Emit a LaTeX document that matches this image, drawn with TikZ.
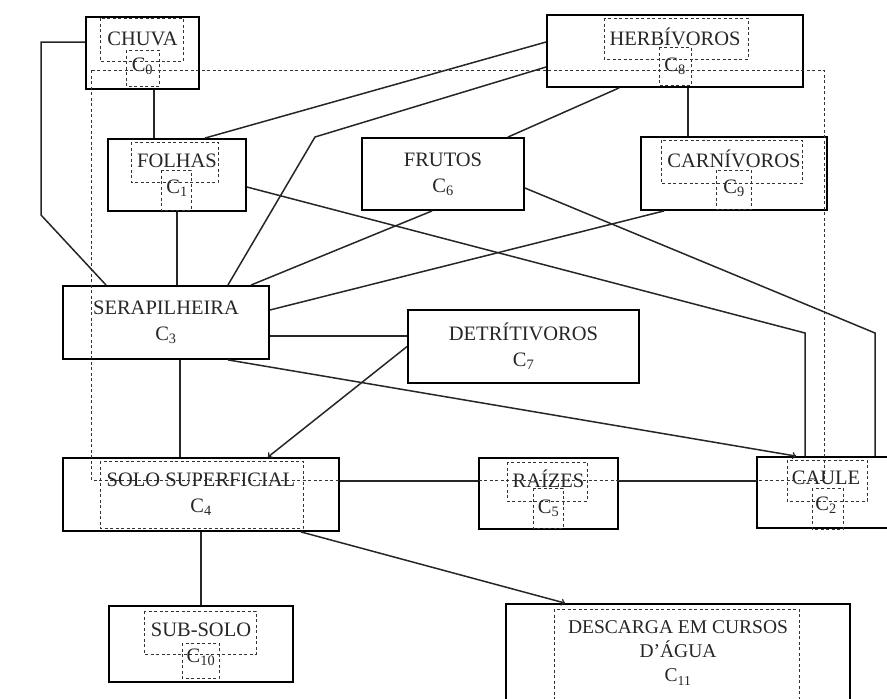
\documentclass[tikz,border=0pt]{standalone}
\usepackage{fontspec}
\setmainfont{Liberation Serif}
\usetikzlibrary{arrows}

\newcommand{\boxfont}{\fontsize{20.5}{26}\selectfont}
\newcommand{\bigboxfont}{\fontsize{19.5}{24}\selectfont}

\tikzset{
	box/.style={draw, line width=1.8pt, align=center, font=\boxfont, inner sep=0pt, text=black!85},
	frame/.style={line width=0.9pt, black!80, dash pattern=on 3pt off 2.5pt},
	link/.style={line width=1.5pt, black!85}
}

\begin{document}
\begin{tikzpicture}[x=1pt,y=-1pt]

	\useasboundingbox (0,0) rectangle (887,699);
	\clip (0,0) rectangle (887,699);

	\node[box, minimum width=113pt, minimum height=72pt] (chuva) at (142.5,53) {CHUVA\\C\textsubscript{0}};
	\node[box, minimum width=138pt, minimum height=72pt] (folhas) at (177,175) {FOLHAS\\C\textsubscript{1}};
	\node[box, minimum width=162pt, minimum height=72pt] (frutos) at (443,174) {FRUTOS\\C\textsubscript{6}};
	\node[box, minimum width=256pt, minimum height=72pt] (herb) at (675,51) {HERBÍVOROS\\C\textsubscript{8}};
	\node[box, minimum width=186pt, minimum height=73pt] (carn) at (734,173.5) {CARNÍVOROS\\C\textsubscript{9}};
	\node[box, minimum width=206pt, minimum height=73pt] (serap) at (166,322.5) {SERAPILHEIRA\\C\textsubscript{3}};
	\node[box, minimum width=231pt, minimum height=73pt] (detr) at (523.5,346.5) {DETRÍTIVOROS\\C\textsubscript{7}};
	\node[box, minimum width=276pt, minimum height=73pt] (solo) at (201,494.5) {SOLO SUPERFICIAL\\C\textsubscript{4}};
	\node[box, minimum width=139pt, minimum height=71pt] (raizes) at (548.5,493.5) {RAÍZES\\C\textsubscript{5}};
	\node[box, minimum width=138pt, minimum height=71pt] (caule) at (826,492.5) {CAULE\\C\textsubscript{2}};
	\node[box, minimum width=184pt, minimum height=76pt] (subsolo) at (201,644) {SUB-SOLO\\C\textsubscript{10}};
	\node[box, font=\bigboxfont, minimum width=344pt, minimum height=98pt] (descarga) at (678,653) {DESCARGA EM CURSOS\\D'ÁGUA\\C\textsubscript{11}};

	% dotted frames
	\draw[frame] (91,70) rectangle (824,480);
	\draw[frame] (100,18) rectangle (183,61);
	\draw[frame] (126,50) rectangle (159,86);
	\draw[frame] (131,142) rectangle (218,182);
	\draw[frame] (161,170) rectangle (191,210);
	\draw[frame] (604,18) rectangle (748,59);
	\draw[frame] (659,47) rectangle (691,85);
	\draw[frame] (661,140) rectangle (802,183);
	\draw[frame] (716,170) rectangle (751,209);
	\draw[frame] (100,461) rectangle (303,528);
	\draw[frame] (507,462) rectangle (587,501);
	\draw[frame] (533,488) rectangle (563,528);
	\draw[frame] (787,460) rectangle (867,501);
	\draw[frame] (812,488) rectangle (843,529);
	\draw[frame] (144,611) rectangle (256,654);
	\draw[frame] (182,643) rectangle (219,678);
	\draw[frame] (554,609) rectangle (799,705);

	\coordinate (bendA) at (41,215);
	\coordinate (bendB) at (315,137);
	\coordinate (bendC) at (805,333);
	\coordinate (bendD) at (875,333);

	\draw[link] ([xshift=11.5pt]chuva.south) -- ([xshift=11.5pt]chuva.south |- folhas.north);
	\draw[link] ([yshift=11pt]chuva.west) -| (bendA) -- ([xshift=44pt]serap.north west);
	\draw[link] ([yshift=9pt]herb.west) -- ([xshift=-42pt]folhas.north east);
	\draw[link] ([yshift=-16pt]herb.west) -- (bendB) -- ([xshift=-42pt]serap.north east);
	\draw[link] ([xshift=73pt]herb.south west) -- ([xshift=-17pt]frutos.north east);
	\draw[link] ([xshift=13pt]herb.south) -- ([xshift=13pt]herb.south |- carn.north);
	\draw[link] ([xshift=71pt]frutos.south west) -- ([xshift=-19pt]serap.north east);
	\draw[link] ([yshift=12.5pt]serap.east) -- ([xshift=24pt]carn.south west);
	\draw[link] ([yshift=-13.5pt]serap.east) -- ([yshift=-13.5pt]serap.east -| detr.west);
	\draw[link, ->] ([xshift=-42pt]serap.south east) -- ([xshift=40pt]caule.north west);
	\draw[link] ([yshift=-12pt]folhas.east) -- (bendC) -- (bendC |- caule.north);
	\draw[link] ([yshift=-14pt]frutos.east) -- (bendD) -- (bendD |- caule.north);
	\draw[link, ->] (detr.west) -- ([xshift=-72pt]solo.north east);
	\draw[link] (folhas.south) -- (folhas.south |- serap.north);
	\draw[link] ([xshift=14pt]serap.south) -- ([xshift=14pt]serap.south |- solo.north);
	\draw[link] ([yshift=13.5pt]solo.east) -- ([yshift=13.5pt]solo.east -| raizes.west);
	\draw[link] ([yshift=13.5pt]solo.east -| raizes.east) -- ([yshift=13.5pt]solo.east -| caule.west);
	\draw[link] (solo.south) -- (solo.south |- subsolo.north);
	\draw[link, ->] ([xshift=-39pt]solo.south east) -- ([xshift=60pt]descarga.north west);

\end{tikzpicture}
\end{document}
